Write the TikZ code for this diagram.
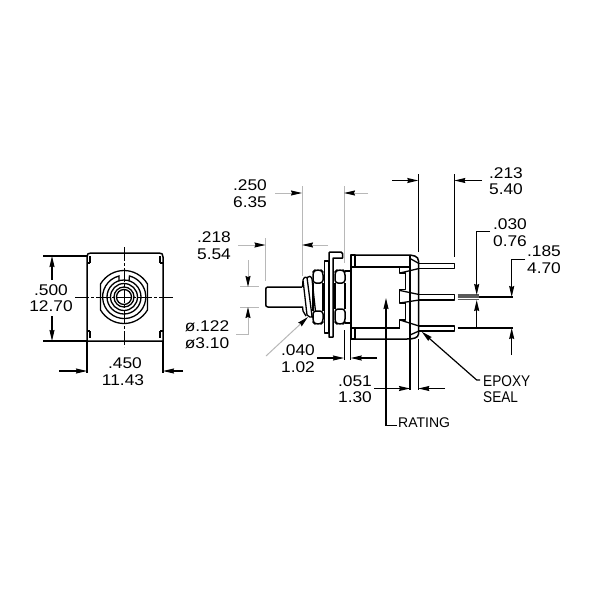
\documentclass[tikz,border=0pt]{standalone}
\usepackage{fontspec}
\setmainfont[FakeStretch=1.12]{Liberation Sans}
\newfontfamily\capfont{Liberation Sans}
\newfontfamily\narrowcap[FakeStretch=.88]{Liberation Sans}
\usetikzlibrary{arrows.meta}
\definecolor{softgray}{gray}{0.72}
\tikzset{
  part/.style={line width=1.5pt,black,line join=round},
  thinpart/.style={line width=1.3pt,black},
  dimk/.style={line width=1.2pt,black,-{Stealth[black,length=11pt,width=5pt,inset=1pt]}},
  dimg/.style={line width=1pt,softgray,-{Stealth[black,length=11pt,width=5pt,inset=1pt]}},
  extk/.style={line width=1.2pt,black},
  extg/.style={line width=1pt,softgray},
  center line/.style={line width=1pt,black,dash pattern=on 14pt off 2pt on 3pt off 2pt},
  lab/.style={font=\fontsize{15.5}{16}\selectfont,inner sep=0pt,anchor=center,text=black},
  caplab/.style={font=\fontsize{14}{15}\capfont,inner sep=0pt,anchor=west,text=black},
  narrowlab/.style={font=\fontsize{15.5}{16}\narrowcap,inner sep=0pt,anchor=west,text=black}
}
\begin{document}
\begin{tikzpicture}[x=1pt,y=-1pt]
\useasboundingbox (0,0) rectangle (600,600);
\fill[white] (0,0) rectangle (600,600);
% ---------- front view
\draw[part] (87,341) -- (87,257) .. controls (87,254) and (88,253) .. (91,253) -- (159,253)
  .. controls (162,253) and (163,254) .. (163,257) -- (163,341) -- cycle;
\foreach \xa/\xb in {87/90,163/160}{
  \draw[thinpart] (\xb,263) -- (\xb,256) (\xa,263) -- (\xb,263);
  \draw[thinpart] (\xb,331) -- (\xb,338) (\xa,331) -- (\xb,331);
}
\begin{scope}[shift={(124,297)}]
  \draw[thinpart] (-23.5,-13) -- (-23.5,13) .. controls (-18,22) and (-9,26.5) .. (0,26.5) .. controls (9,26.5) and (18,22) .. (23.5,13) -- (23.5,-13) .. controls (18,-22) and (9,-26.5) .. (0,-26.5) .. controls (-9,-26.5) and (-18,-22) .. cycle;
  \draw[thinpart] (-5,-16) -- (-5,-21) arc[start angle=256,end angle=-76,radius=21.6] -- (5,-16);
  \draw[thinpart] (0,0) circle[radius=17];
  \draw[thinpart] (0,0) circle[radius=13.5];
  \draw[thinpart] (0,0) circle[radius=10];
  \draw[thinpart] (0,0) circle[radius=7.5];
\end{scope}
\draw[center line] (75,297) -- (174,297);
\draw[center line] (124.3,247) -- (124.3,347);
% front view dimensions
\draw[extk] (43,256) -- (87,256) (43,341) -- (87,341);
\draw[extk] (87,341) -- (87,373) (163,341) -- (163,373);
\draw[dimk] (52,280) -- (52,256);
\draw[dimk] (52,316) -- (52,341);
\draw[dimk] (59,371) -- (87,371);
\draw[dimk] (183,371) -- (163,371);
\node[lab] (a500) at (51,290) {.500};
\node[lab] (a1270) at (51,306.5) {12.70};
\node[lab] (a450) at (125,363) {.450};
\node[lab] (a1143) at (123,380) {11.43};
% ---------- side view: stem and threads
\draw[part] (302,287) -- (268,287) .. controls (266.5,287) and (265.8,288) .. (265.8,289) -- (265.8,305) .. controls (265.8,306) and (266.5,307) .. (268,307) -- (303,307);
\draw[thinpart] (302.5,287) -- (303,280) .. controls (304,277) and (306,276.5) .. (307,277.5) -- (312,316) .. controls (312,318) and (308,317) .. (307,315) -- (303,280);
\draw[thinpart] (302.5,307) -- (303,311) -- (306,316);
\draw[thinpart] (307,277.5) .. controls (309,275.5) and (311,276) .. (312,279) -- (316,316) .. controls (316,319) and (313,319) .. (312,316);
% nut 1
\draw[part,fill=white,rounded corners=3pt] (313,283) -- (313,272) -- (315,270) -- (321,270) -- (323,272) -- (323,283) -- cycle;
\draw[part,fill=white,rounded corners=3pt] (313,311) -- (313,322) -- (315,324) -- (321,324) -- (323,322) -- (323,311) -- cycle;
\draw[part] (313,283) -- (313,311) (323,283) -- (323,311);
\draw[part] (323,292) -- (324,292) (323,302) -- (324,302);
% washer and plate
\draw[part] (324.5,261) rectangle (328.5,333);
\draw[part] (329,337) -- (329,253) -- (330,252) -- (341,252) -- (342.5,253.5) -- (342.5,258) -- (333,258) -- (333,337) -- cycle;
% nut 2
\draw[part,rounded corners=3pt] (335,283) -- (335,272) -- (337,270) -- (343,270) -- (345,272) -- (345,283) -- cycle;
\draw[part,rounded corners=3pt] (335,309) -- (335,322) -- (337,324) -- (343,324) -- (345,322) -- (345,309) -- cycle;
\draw[part] (335,283) -- (335,309) (345,283) -- (345,309);
\draw[part] (345,271) -- (351,271) (345,323) -- (351,323);
% body
\draw[part] (351,255) rectangle (355,267);
\draw[part] (351,328) rectangle (355,339);
\draw[part] (351,267) -- (351,328);
\draw[part] (355,255) -- (407,255) .. controls (413,255) and (418.5,256) .. (418.5,261) -- (418.5,334) .. controls (418.5,338) and (413,339) .. (407,339) -- (355,339);
\draw[part] (351,267) -- (410,267);
\draw[part] (351,328) -- (400,328);
\draw[part] (410,255) -- (410,339);
% terminals profile
\draw[part] (399.5,268) -- (399.5,273) -- (405.5,273) -- (405.5,289.5) -- (399.5,289.5) -- (399.5,303) -- (405.5,303) -- (405.5,320) -- (399.5,320) -- (399.5,328);
\draw[thinpart] (410,258.5) -- (419,263.5) (400,273) -- (419,268.5);
\draw[thinpart] (400,290.5) -- (419,294.5) (400,303) -- (419,300);
\draw[thinpart] (400,320) -- (419,326) (410,335) -- (419,331);
% pins
\draw[part] (419,263.3) -- (454.5,263.3) -- (454.5,268.5) -- (419,268.5);
\draw[part] (419,294.5) -- (454.5,294.5) -- (454.5,300) -- (419,300);
\draw[part] (419,326) -- (454.5,326) -- (454.5,331) -- (419,331);
% hatched pin end
\foreach \yy in {295,296.4,297.8,299.2}{\draw[line width=1.1pt,black!65] (457.5,\yy) -- (479,\yy);}
% right dimensions
\draw[extk] (418.3,174) -- (418.3,252) (454.3,174) -- (454.3,257);
\draw[dimk] (392,180.5) -- (418.3,180.5);
\draw[dimk] (482,180.5) -- (454.3,180.5);
\node[lab] (b213) at (506,173) {.213};
\node[lab] (b540) at (506,189) {5.40};
\draw[dimk] (490,231.7) -- (476.7,231.7) -- (476.7,295);
\draw[dimk] (476.7,328) -- (476.7,300);
\node[lab] (b030) at (510,224.5) {.030};
\node[lab] (b076) at (510,241) {0.76};
\draw[dimk] (525,259.3) -- (511.7,259.3) -- (511.7,297);
\draw[dimk] (511.7,355) -- (511.7,328);
\draw[extk] (479,297) -- (513,297) (457.5,328) -- (513,328);
\node[lab] (b185) at (544,251.5) {.185};
\node[lab] (b470) at (544,268) {4.70};
% epoxy seal
\draw[dimk] (480,380) -- (476.7,380) -- (421.7,331.7);
\node[narrowlab] (epoxy) at (483,381) {EPOXY};
\node[narrowlab] (seal) at (483,397.5) {SEAL};
% rating
\draw[dimk] (397,425.5) -- (386,425.5) -- (386,298);
\node[caplab] (rating) at (398,423) {RATING};
% .051
\draw[extk] (410,339) -- (410,390) (418.3,339) -- (418.3,390);
\draw[dimk] (374,388.5) -- (410,388.5);
\draw[dimk] (445,388.5) -- (418.3,388.5);
\node[lab] (c051) at (355,381) {.051};
\node[lab] (c130) at (355,397) {1.30};
% .040
\draw[extk,line width=1pt] (344,330) -- (344,360) (350.7,339) -- (350.7,360);
\draw[dimk] (317,358) -- (344,358);
\draw[dimk] (377,358) -- (350.7,358);
\node[lab] (c040) at (298,350.5) {.040};
\node[lab] (c102) at (298,367) {1.02};
% stem dia
\draw[extg] (265.5,238) -- (265.5,281);
\draw[extg] (302,186) -- (302,276);
\draw[extg] (344,186) -- (344,263);
\draw[extg] (240,286.7) -- (259,286.7) (240,307) -- (259,307);
\draw[dimg] (238,245) -- (265.5,245);
\draw[dimg] (328,245) -- (302,245);
\node[lab] (d218) at (214,237) {.218};
\node[lab] (d554) at (214,254) {5.54};
\draw[dimg] (275,193) -- (302,193);
\draw[dimg] (368,193) -- (344,193);
\node[lab] (d250) at (250,185) {.250};
\node[lab] (d635) at (250,202) {6.35};
\draw[dimg] (248,260) -- (248,287);
\draw[dimg] (236,334) -- (248,334) -- (248,307);
\node[lab] (d122) at (207,326) {ø.122};
\node[lab] (d310) at (207,343) {ø3.10};
\draw[dimg] (266,356) -- (308,317);
\end{tikzpicture}
\end{document}
